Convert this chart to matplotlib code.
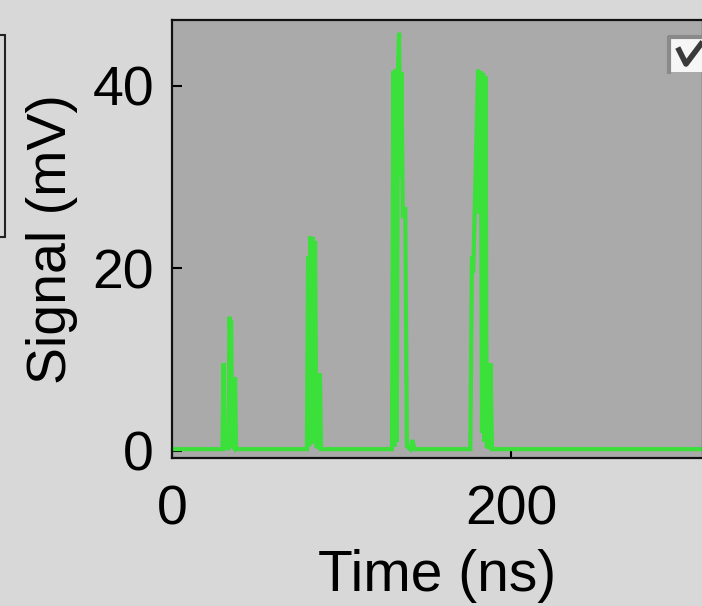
import matplotlib
matplotlib.use("Agg")
import matplotlib.pyplot as plt
from matplotlib.patches import Rectangle
from matplotlib.lines import Line2D

# Digitiser trace: time (ns) and detector signal (mV)
time_ns = [0.0, 29.8, 30.4, 31.0, 33.3, 33.9, 34.4, 34.9, 35.5, 36.6, 37.2, 37.8,
           79.6, 80.3, 80.9, 81.6, 82.3, 83.0, 83.7, 84.4, 85.2, 86.7, 87.3, 87.9,
           129.8, 130.6, 131.2, 131.9, 132.6, 133.3, 134.0, 134.7, 135.4, 136.2,
           137.6, 138.6, 140.6, 141.8, 143.0,
           176.0, 177.0, 177.7, 180.6, 181.4, 182.2, 182.9, 183.6, 184.3, 185.0,
           185.7, 187.3, 187.9, 188.8, 312.0]
signal_mV = [0.2, 0.2, 9.6, 0.3, 0.3, 14.7, 12.8, 14.3, 0.5, 0.3, 8.1, 0.2,
             0.2, 21.3, 0.5, 23.5, 0.8, 23.4, 1.0, 23.0, 0.5, 0.4, 8.5, 0.2,
             0.2, 41.6, 0.5, 41.8, 1.0, 41.5, 45.8, 30.0, 41.5, 25.5,
             26.7, 0.5, 0.2, 1.2, 0.2,
             0.2, 21.3, 19.5, 41.8, 26.0, 41.6, 2.0, 41.4, 1.0, 41.0,
             0.5, 0.4, 9.6, 0.2, 0.2]

x_ticks = [0, 200]
y_ticks = [0, 20, 40]
x_label = "Time (ns)"
y_label = "Signal (mV)"

W, H = 702, 606
plt.rcParams["font.family"] = ["Liberation Sans", "DejaVu Sans"]

fig = plt.figure(figsize=(W / 100, H / 100), dpi=100, facecolor="#d8d8d8")
ax = fig.add_axes([172 / W, (H - 458) / H, (703 - 172) / W, (458 - 20) / H])
ax.set_facecolor("#aaaaaa")

ax.plot(time_ns, signal_mV, color="#3be03b", lw=3.0, solid_joinstyle="miter")

ax.set_xlim(0, 313.3)
ax.set_ylim(-0.77, 47.2)
ax.set_xticks(x_ticks)
ax.set_yticks(y_ticks)
ax.tick_params(direction="in", length=7, width=1.5, labelsize=40,
               colors="black", top=False, right=False)
ax.tick_params(axis="x", pad=19)
ax.tick_params(axis="y", pad=13)
for s in ax.spines.values():
    s.set_linewidth(1.6)
    s.set_color("#111111")

ax.set_xlabel(x_label, fontsize=41)
ax.set_ylabel(y_label, fontsize=40)
ax.xaxis.set_label_coords(0.499, -0.208)
ax.yaxis.set_label_coords(-0.177, 0.5)

# Neighbouring panel frame at the left edge
fig.patches.append(Rectangle((-60 / W, (H - 237) / H), 64.5 / W, (237 - 35) / H,
                             transform=fig.transFigure, fill=False,
                             edgecolor="#222222", lw=1.5))

# Checkbox control in the top-right corner
fig.patches.append(Rectangle((668 / W, (H - 72) / H), 50 / W, 36 / H,
                             transform=fig.transFigure, facecolor="#f6f6f6",
                             edgecolor="none", zorder=5))
fig.lines.append(Line2D([669 / W, 669 / W, 710 / W],
                        [(H - 72) / H, (H - 37) / H, (H - 37) / H],
                        transform=fig.transFigure, color="#8a8a8a", lw=3,
                        zorder=6))
fig.lines.append(Line2D([679 / W, 686 / W, 701 / W],
                        [(H - 50) / H, (H - 64) / H, (H - 44) / H],
                        transform=fig.transFigure, color="#3a3a3a", lw=4,
                        zorder=7))

fig.savefig("out.png", dpi=100, facecolor=fig.get_facecolor())
